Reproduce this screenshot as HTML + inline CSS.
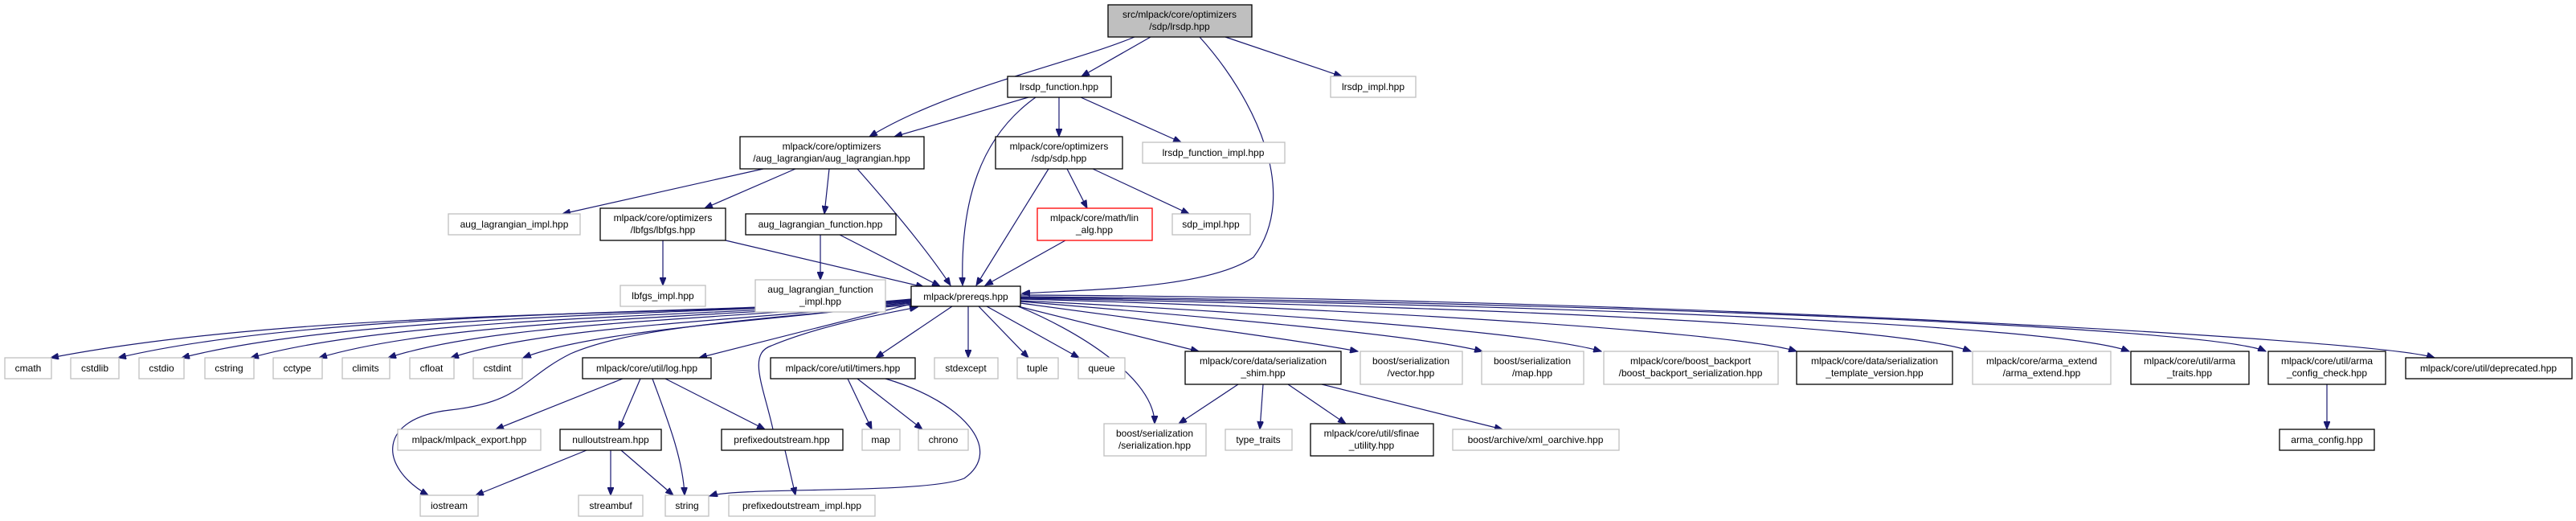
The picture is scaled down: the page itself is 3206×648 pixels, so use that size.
<!DOCTYPE html>
<html><head><meta charset="utf-8"><style>
html,body{margin:0;padding:0;background:#fff;}
svg{display:block;}
text{font-family:"Liberation Sans",sans-serif;font-size:12px;fill:#000;text-anchor:middle;}
.b{fill:#fff;stroke:#000;stroke-width:1.3;}
.g{fill:#fff;stroke:#bfbfbf;stroke-width:1.3;}
.r{fill:#fff;stroke:#ff0000;stroke-width:1.3;}
.e{fill:none;stroke:#191970;stroke-width:1.2;marker-end:url(#a);}
</style></head><body>
<svg width="3206" height="648" viewBox="0 0 3206 648" xmlns="http://www.w3.org/2000/svg">
<defs><marker id="a" markerUnits="userSpaceOnUse" markerWidth="11" markerHeight="8" refX="10" refY="4" orient="auto"><path d="M0,0 L10,4 L0,8 z" fill="#191970" stroke="#191970"/></marker></defs>

<!-- edges -->
<path class="e" d="M1412,46 C1330,80 1180,110 1082,170"/>
<path class="e" d="M1432,46 L1346,95"/>
<path class="e" d="M1493,46 C1560,120 1620,240 1560,320 C1500,360 1350,360 1272,365"/>
<path class="e" d="M1525,46 L1670,95"/>
<path class="e" d="M1280,121 L1113,170"/>
<path class="e" d="M1289,121 C1220,170 1195,250 1198,355"/>
<path class="e" d="M1318,121 L1318,170"/>
<path class="e" d="M1345,121 L1470,177"/>
<path class="e" d="M950,210 L700,266"/>
<path class="e" d="M990,210 L877,259"/>
<path class="e" d="M1032,210 L1026,266"/>
<path class="e" d="M1067,210 C1120,270 1160,320 1183,355"/>
<path class="e" d="M1305,210 L1215,355"/>
<path class="e" d="M1328,210 L1353,259"/>
<path class="e" d="M1360,210 L1480,266"/>
<path class="e" d="M1326,299 L1226,355"/>
<path class="e" d="M903,299 L1150,357"/>
<path class="e" d="M1045,292 L1170,356"/>
<path class="e" d="M1021,292 L1021,348"/>
<path class="e" d="M825,299 L825,355"/>

<path class="e" d="M1134,372 C900,395 400,380 63,445"/>
<path class="e" d="M1134,373 C900,390 400,385 147,445"/>
<path class="e" d="M1134,373 C900,392 450,388 226,445"/>
<path class="e" d="M1134,374 C900,394 500,392 312,445"/>
<path class="e" d="M1134,374 C900,396 560,396 397,445"/>
<path class="e" d="M1134,375 C900,398 620,400 483,445"/>
<path class="e" d="M1134,376 C920,400 680,405 561,445"/>
<path class="e" d="M1134,377 C950,400 740,410 651,445"/>
<path class="e" d="M1134,378 L870,445"/>
<path class="e" d="M1134,379 C900,400 780,410 710,440 C650,470 650,500 560,510 C470,520 470,580 533,616"/>
<path class="e" d="M962,534 C950,480 930,440 960,430 C1020,405 1100,390 1142,382"/>
<path class="e" d="M1185,381 L1090,445"/>
<path class="e" d="M1205,381 L1205,445"/>
<path class="e" d="M1218,381 L1280,445"/>
<path class="e" d="M1228,381 L1343,445"/>
<path class="e" d="M1262,379 C1340,410 1437,470 1437,527"/>
<path class="e" d="M1255,378 L1492,437"/>
<path class="e" d="M1270,377 C1400,395 1600,420 1690,437"/>
<path class="e" d="M1270,375 C1450,390 1760,415 1845,437"/>
<path class="e" d="M1270,374 C1500,385 1900,410 1993,437"/>
<path class="e" d="M1270,372 C1600,380 2150,410 2236,437"/>
<path class="e" d="M1270,371 C1700,378 2350,400 2453,437"/>
<path class="e" d="M1270,370 C1800,376 2550,400 2650,437"/>
<path class="e" d="M1270,369 C1900,374 2750,405 2820,437"/>
<path class="e" d="M1270,367 C2000,370 2950,420 3030,445"/>

<path class="e" d="M775,471 L617,534"/>
<path class="e" d="M797,471 L770,534"/>
<path class="e" d="M812,471 C830,520 850,570 852,616"/>
<path class="e" d="M828,471 L952,534"/>
<path class="e" d="M730,560 L592,616"/>
<path class="e" d="M760,560 L760,616"/>
<path class="e" d="M773,560 L838,616"/>
<path class="e" d="M977,560 L990,616"/>
<path class="e" d="M1055,471 L1085,534"/>
<path class="e" d="M1067,471 L1148,534"/>
<path class="e" d="M1102,471 C1200,500 1250,560 1200,595 C1150,615 920,605 883,617"/>
<path class="e" d="M1541,478 L1467,527"/>
<path class="e" d="M1572,478 L1568,534"/>
<path class="e" d="M1603,478 L1675,527"/>
<path class="e" d="M1645,478 L1870,534"/>
<path class="e" d="M2896,478 L2896,534"/>

<!-- nodes -->
<rect x="1379" y="6" width="179" height="40" fill="#bfbfbf" stroke="#000" stroke-width="1.3"/>
<text x="1468" y="22">src/mlpack/core/optimizers</text><text x="1468" y="37">/sdp/lrsdp.hpp</text>
<rect class="b" x="1254" y="95" width="129" height="26"/><text x="1318" y="112">lrsdp_function.hpp</text>
<rect class="g" x="1656" y="95" width="106" height="26"/><text x="1709" y="112">lrsdp_impl.hpp</text>
<rect class="b" x="921" y="170" width="229" height="40"/><text x="1035" y="186">mlpack/core/optimizers</text><text x="1035" y="201">/aug_lagrangian/aug_lagrangian.hpp</text>
<rect class="b" x="1239" y="170" width="158" height="40"/><text x="1318" y="186">mlpack/core/optimizers</text><text x="1318" y="201">/sdp/sdp.hpp</text>
<rect class="g" x="1422" y="177" width="177" height="26"/><text x="1510" y="194">lrsdp_function_impl.hpp</text>
<rect class="g" x="558" y="266" width="164" height="26"/><text x="640" y="283">aug_lagrangian_impl.hpp</text>
<rect class="b" x="747" y="259" width="156" height="40"/><text x="825" y="275">mlpack/core/optimizers</text><text x="825" y="290">/lbfgs/lbfgs.hpp</text>
<rect class="b" x="928" y="266" width="187" height="26"/><text x="1021" y="283">aug_lagrangian_function.hpp</text>
<rect class="r" x="1291" y="259" width="143" height="40"/><text x="1362" y="275">mlpack/core/math/lin</text><text x="1362" y="290">_alg.hpp</text>
<rect class="g" x="1459" y="266" width="97" height="26"/><text x="1507" y="283">sdp_impl.hpp</text>
<rect class="g" x="772" y="355" width="106" height="26"/><text x="825" y="372">lbfgs_impl.hpp</text>
<rect class="g" x="940" y="348" width="162" height="40"/><text x="1021" y="364">aug_lagrangian_function</text><text x="1021" y="379">_impl.hpp</text>
<rect class="b" x="1134" y="356" width="136" height="25"/><text x="1202" y="373">mlpack/prereqs.hpp</text>

<rect class="g" x="6" y="445" width="58" height="26"/><text x="35" y="462">cmath</text>
<rect class="g" x="88" y="445" width="60" height="26"/><text x="118" y="462">cstdlib</text>
<rect class="g" x="173" y="445" width="56" height="26"/><text x="201" y="462">cstdio</text>
<rect class="g" x="255" y="445" width="61" height="26"/><text x="285" y="462">cstring</text>
<rect class="g" x="340" y="445" width="61" height="26"/><text x="370" y="462">cctype</text>
<rect class="g" x="426" y="445" width="59" height="26"/><text x="455" y="462">climits</text>
<rect class="g" x="510" y="445" width="55" height="26"/><text x="537" y="462">cfloat</text>
<rect class="g" x="589" y="445" width="61" height="26"/><text x="619" y="462">cstdint</text>
<rect class="b" x="725" y="445" width="160" height="26"/><text x="805" y="462">mlpack/core/util/log.hpp</text>
<rect class="b" x="959" y="445" width="180" height="26"/><text x="1049" y="462">mlpack/core/util/timers.hpp</text>
<rect class="g" x="1163" y="445" width="79" height="26"/><text x="1202" y="462">stdexcept</text>
<rect class="g" x="1266" y="445" width="51" height="26"/><text x="1291" y="462">tuple</text>
<rect class="g" x="1342" y="445" width="58" height="26"/><text x="1371" y="462">queue</text>
<rect class="b" x="1475" y="437" width="194" height="41"/><text x="1572" y="453">mlpack/core/data/serialization</text><text x="1572" y="468">_shim.hpp</text>
<rect class="g" x="1693" y="437" width="127" height="41"/><text x="1756" y="453">boost/serialization</text><text x="1756" y="468">/vector.hpp</text>
<rect class="g" x="1844" y="437" width="127" height="41"/><text x="1907" y="453">boost/serialization</text><text x="1907" y="468">/map.hpp</text>
<rect class="g" x="1996" y="437" width="217" height="41"/><text x="2104" y="453">mlpack/core/boost_backport</text><text x="2104" y="468">/boost_backport_serialization.hpp</text>
<rect class="b" x="2236" y="437" width="194" height="41"/><text x="2333" y="453">mlpack/core/data/serialization</text><text x="2333" y="468">_template_version.hpp</text>
<rect class="g" x="2455" y="437" width="172" height="41"/><text x="2541" y="453">mlpack/core/arma_extend</text><text x="2541" y="468">/arma_extend.hpp</text>
<rect class="b" x="2652" y="437" width="147" height="41"/><text x="2725" y="453">mlpack/core/util/arma</text><text x="2725" y="468">_traits.hpp</text>
<rect class="b" x="2823" y="437" width="146" height="41"/><text x="2896" y="453">mlpack/core/util/arma</text><text x="2896" y="468">_config_check.hpp</text>
<rect class="b" x="2994" y="445" width="207" height="26"/><text x="3097" y="462">mlpack/core/util/deprecated.hpp</text>

<rect class="g" x="495" y="534" width="178" height="26"/><text x="584" y="551">mlpack/mlpack_export.hpp</text>
<rect class="b" x="697" y="534" width="126" height="26"/><text x="760" y="551">nulloutstream.hpp</text>
<rect class="b" x="898" y="534" width="151" height="26"/><text x="973" y="551">prefixedoutstream.hpp</text>
<rect class="g" x="1073" y="534" width="47" height="26"/><text x="1096" y="551">map</text>
<rect class="g" x="1143" y="534" width="62" height="26"/><text x="1174" y="551">chrono</text>
<rect class="g" x="1374" y="527" width="127" height="40"/><text x="1437" y="543">boost/serialization</text><text x="1437" y="558">/serialization.hpp</text>
<rect class="g" x="1525" y="534" width="83" height="26"/><text x="1566" y="551">type_traits</text>
<rect class="b" x="1631" y="527" width="153" height="40"/><text x="1707" y="543">mlpack/core/util/sfinae</text><text x="1707" y="558">_utility.hpp</text>
<rect class="g" x="1808" y="534" width="207" height="26"/><text x="1911" y="551">boost/archive/xml_oarchive.hpp</text>
<rect class="b" x="2837" y="534" width="118" height="26"/><text x="2896" y="551">arma_config.hpp</text>

<rect class="g" x="523" y="616" width="72" height="26"/><text x="559" y="633">iostream</text>
<rect class="g" x="720" y="616" width="80" height="26"/><text x="760" y="633">streambuf</text>
<rect class="g" x="828" y="616" width="54" height="26"/><text x="855" y="633">string</text>
<rect class="g" x="907" y="616" width="182" height="26"/><text x="998" y="633">prefixedoutstream_impl.hpp</text>
</svg>
</body></html>
